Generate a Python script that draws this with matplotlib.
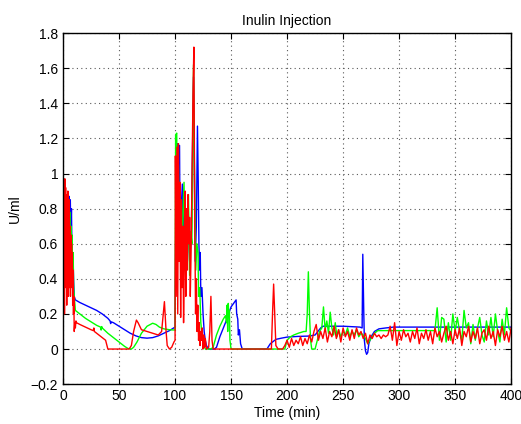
import matplotlib
matplotlib.use("Agg")
import matplotlib.pyplot as plt
from matplotlib.ticker import FuncFormatter

plt.rcParams['font.family'] = ['Liberation Sans', 'DejaVu Sans']
plt.rcParams['font.size'] = 10

# Blue series (time in min, U/ml)
blue = [(0, 0), (0.5, 0.8), (1, 0.6), (1.5, 0.82), (2, 0.7), (2.5, 0.85), (3, 0.72), (3.5, 0.86),
        (4, 0.68), (4.5, 0.84), (5, 0.78), (5.5, 0.87), (6, 0.74), (6.5, 0.85), (7, 0.62), (7.5, 0.8),
        (8, 0.55), (8.5, 0.45), (9, 0.5), (9.5, 0.38), (10, 0.3), (11, 0.28),
        (15, 0.265), (20, 0.25), (25, 0.235), (30, 0.22), (35, 0.2), (40, 0.175), (42, 0.16),
        (42.5, 0.145), (43, 0.155), (45, 0.15), (50, 0.13), (55, 0.11), (60, 0.09), (65, 0.075),
        (70, 0.065), (75, 0.062), (80, 0.065), (85, 0.075), (90, 0.09), (95, 0.105), (100, 0.125),
        (100.5, 0.6), (101.5, 1.0), (102.5, 1.17), (103, 0.5), (104, 1.16), (104.5, 0.62),
        (105.5, 0.8), (106.5, 0.94), (107.5, 0.5), (108.5, 0.85), (110, 0.55), (111.5, 0.75),
        (113, 0.5), (114.5, 0.65), (116.5, 1.55), (118, 0.5), (119, 0.7), (120, 1.27),
        (120.7, 0.95), (121.3, 0.6), (122, 0.45), (122.5, 0.55), (123, 0.3), (124, 0.35),
        (125, 0.2), (126, 0.1), (127, 0.05), (128, 0.02), (130, 0),
        (135, 0), (137, 0.01), (140, 0.07), (145, 0.15), (150, 0.24), (154.5, 0.28), (155, 0.2),
        (156, 0.17), (156.5, 0.08), (157.5, 0.11), (158.5, 0.03), (159, 0.02), (160, 0),
        (182, 0), (185, 0.03), (190, 0.055), (195, 0.062), (200, 0.068), (210, 0.072),
        (220, 0.074), (225, 0.08), (230, 0.12), (232, 0.13), (250, 0.13), (265, 0.125),
        (267, 0.12), (267.6, 0.54), (268.5, 0.2), (269, 0.05), (270, -0.01), (271, -0.03),
        (272, -0.02), (273, 0.03), (275, 0.07), (278, 0.1), (282, 0.115), (288, 0.12),
        (295, 0.125), (400, 0.125)]

# Green series
green = [(0, 0), (0.5, 0.7), (1, 0.85), (1.5, 0.6), (2, 0.8), (2.5, 0.55), (3, 0.83), (3.5, 0.6),
         (4, 0.88), (4.5, 0.5), (5, 0.8), (5.5, 0.6), (6, 0.78), (6.5, 0.45), (7, 0.7), (7.5, 0.5),
         (8, 0.65), (8.5, 0.4), (9, 0.55), (9.5, 0.35), (10, 0.3), (11, 0.22),
         (15, 0.2), (20, 0.175), (25, 0.155), (30, 0.135), (33.5, 0.125), (34, 0.108),
         (34.5, 0.128), (35, 0.12), (40, 0.09), (45, 0.065), (50, 0.04), (55, 0.015), (58, 0.003),
         (61, 0), (63, 0.01), (66, 0.04), (70, 0.09), (75, 0.13), (80, 0.147), (83, 0.14),
         (86, 0.125), (90, 0.115), (95, 0.11), (100, 0.108),
         (100.5, 1.22), (101.5, 1.23), (102, 0.6), (103, 1.05), (104, 0.5), (105, 0.85),
         (106, 0.4), (107, 0.78), (108, 0.95), (109, 0.45), (110, 0.72), (111, 0.55), (112, 0.88),
         (113, 0.42), (114, 0.67), (115, 0.6), (116.5, 1.62), (117.5, 0.9), (118.5, 0.45),
         (119.5, 0.6), (120.5, 0.55), (121, 0.3), (122, 0.35), (123, 0.15), (124, 0.09),
         (125, 0.03), (127, 0), (132, 0), (134, 0.01), (137, 0.08), (140, 0.13), (143, 0.17),
         (145, 0.19), (146, 0.15), (146.5, 0.25), (147, 0.1), (147.5, 0.26), (148, 0.18),
         (148.5, 0.22), (149, 0.05), (150, 0), (198, 0), (200, 0.05), (203, 0.07), (206, 0.08),
         (210, 0.09), (215, 0.1), (217, 0.1), (218, 0.2), (219, 0.44), (220, 0.2), (221, 0.05),
         (222, 0), (225, 0), (227, 0.05), (229, 0.1), (231, 0.12), (232.5, 0.24), (234, 0.11),
         (235.5, 0.16), (237, 0.09), (238.5, 0.21), (240, 0.12), (241.5, 0.08), (243, 0.15),
         (244.5, 0.07), (246, 0.11), (248, 0.07), (250, 0.1), (252, 0.08), (254, 0.12),
         (256, 0.07), (258, 0.1), (260, 0.08), (262, 0.11), (264, 0.07), (266, 0.09), (268, 0.08),
         (270, 0.06), (272, 0.03), (275, 0.06), (278, 0.09), (281, 0.105), (332, 0.105)]
green_tail_t = list(range(334, 401, 2))
green_tail_v = [0.235, 0.05, 0.18, 0.17, 0.04, 0.15, 0.05, 0.2, 0.1, 0.18,
                0.1, 0.05, 0.22, 0.12, 0.15, 0.03, 0.14, 0.05, 0.12, 0.18,
                0.08, 0.04, 0.16, 0.08, 0.18, 0.07, 0.2, 0.1, 0.04, 0.17,
                0.08, 0.235, 0.12, 0.1]

# Red series
red = [(0, 0), (0.3, 0.95), (0.6, 0.3), (1, 0.9), (1.3, 0.2), (1.6, 0.97), (2, 0.4), (2.3, 0.92),
       (2.6, 0.35), (3, 0.8), (3.3, 0.25), (3.6, 0.88), (4, 0.45), (4.3, 0.9), (4.6, 0.3),
       (5, 0.75), (5.3, 0.4), (5.6, 0.85), (6, 0.35), (6.3, 0.7), (6.6, 0.3), (7, 0.65),
       (7.3, 0.4), (7.6, 0.6), (8, 0.35), (8.3, 0.55), (8.6, 0.25), (9, 0.45), (9.3, 0.2),
       (9.6, 0.3), (10, 0.1), (10.5, 0.15), (11, 0.12), (11.5, 0.16), (12, 0.15), (15, 0.14),
       (20, 0.125), (25, 0.11), (27, 0.105), (27.5, 0.12), (28, 0.1), (30, 0.09), (35, 0.065),
       (38, 0.05), (40, 0), (59, 0), (61, 0.02), (63, 0.1), (65.5, 0.165), (67, 0.15), (70, 0.11),
       (75, 0.1), (80, 0.09), (85, 0.08), (88, 0.1), (90.5, 0.27), (92, 0.1), (93, 0.02), (95, 0),
       (97, 0.01), (99, 0.04), (100, 0.05),
       (100.3, 1.1), (101, 0.3), (101.7, 1.15), (102.4, 0.2), (103, 1.17), (103.7, 0.5),
       (104.3, 0.95), (105, 0.18), (105.6, 0.85), (106.3, 0.35), (107, 0.7), (107.6, 0.15),
       (108.3, 0.5), (109, 0.9), (109.6, 0.3), (110.3, 0.8), (111, 0.45), (111.6, 0.88),
       (112.3, 0.6), (113, 0.75), (113.6, 0.3), (114.3, 0.55), (115, 0.9), (116, 1.45),
       (116.8, 1.72), (117.5, 0.8), (118.3, 0.2), (119, 0.4), (119.6, 0.1), (120.3, 0.25),
       (121, 0.05), (121.6, 0.15), (122.3, 0.02), (123, 0.1), (123.6, 0.05), (124.3, 0.12),
       (125, 0), (125.6, 0.08), (126.3, 0.01), (127, 0.06), (128, 0), (130, 0.01), (131, 0.1),
       (132, 0.3), (133, 0.05), (134, 0), (186, 0), (187, 0.2), (188, 0.37), (189, 0.2),
       (190, 0.02), (192, 0), (196, 0)]
red_tail_t = list(range(198, 401, 2))
red_tail_v = [0.02, 0.05, 0.01, 0.06, 0.02, 0.05, 0.03, 0.07, 0.02, 0.06,
              0.03, 0.08, 0.04, 0.1, 0.14, 0.05, 0.1, 0.06, 0.12, 0.04,
              0.1, 0.07, 0.13, 0.06, 0.11, 0.04, 0.12, 0.07, 0.1, 0.05,
              0.11, 0.06, 0.12, 0.08, 0.1, 0.06, 0.09, 0.03, 0.08, 0.06,
              0.09, 0.07, 0.08, 0.06, 0.08, 0.07, 0.08, 0.13, 0.05, 0.15,
              0.02, 0.1, 0.05, 0.11, 0.07, 0.09, 0.04, 0.1, 0.06, 0.12,
              0.03, 0.09, 0.06, 0.11, 0.05, 0.1, 0.03, 0.12, 0.07, 0.1,
              0.04, 0.09, 0.13, 0.05, 0.1, 0.03, 0.11, 0.06, 0.12, 0.02,
              0.1, 0.07, 0.13, 0.04, 0.1, 0.06, 0.12, 0.03, 0.09, 0.11,
              0.05, 0.13, 0.06, 0.1, 0.02, 0.11, 0.07, 0.13, 0.05, 0.1,
              0.04, 0.12]

x_ticks = [0, 50, 100, 150, 200, 250, 300, 350, 400]
y_ticks = [-0.2, 0, 0.2, 0.4, 0.6, 0.8, 1.0, 1.2, 1.4, 1.6, 1.8]

green = green + list(zip(green_tail_t, green_tail_v))
red = red + list(zip(red_tail_t, red_tail_v))

fig = plt.figure(figsize=(5.21, 4.24), dpi=100)
ax = fig.add_axes([0.121, 0.094, 0.860, 0.828])

for series, col in [(blue, (0, 0, 1)), (green, (0, 1, 0)), (red, (1, 0, 0))]:
    t, v = zip(*series)
    ax.plot(t, v, color=col, lw=1.0)

ax.set_xlim(0, 400)
ax.set_ylim(-0.2, 1.8)
ax.set_xticks(x_ticks)
ax.set_yticks(y_ticks)
ax.yaxis.set_major_formatter(FuncFormatter(lambda v, p: ('%g' % round(v, 2)).replace('-', '\u2212')))
ax.grid(True, linestyle=(0, (1, 3)), color='0.35', lw=0.8)
ax.tick_params(direction='in', top=True, right=True, length=4, width=0.8, labelsize=10)
for s in ax.spines.values():
    s.set_linewidth(1.0)

ax.set_title('Inulin Injection', fontsize=10, pad=6)
ax.set_xlabel('Time (min)', fontsize=10, labelpad=2)
ax.set_ylabel('U/ml', fontsize=10, labelpad=6)

fig.savefig('out.png', dpi=100)
